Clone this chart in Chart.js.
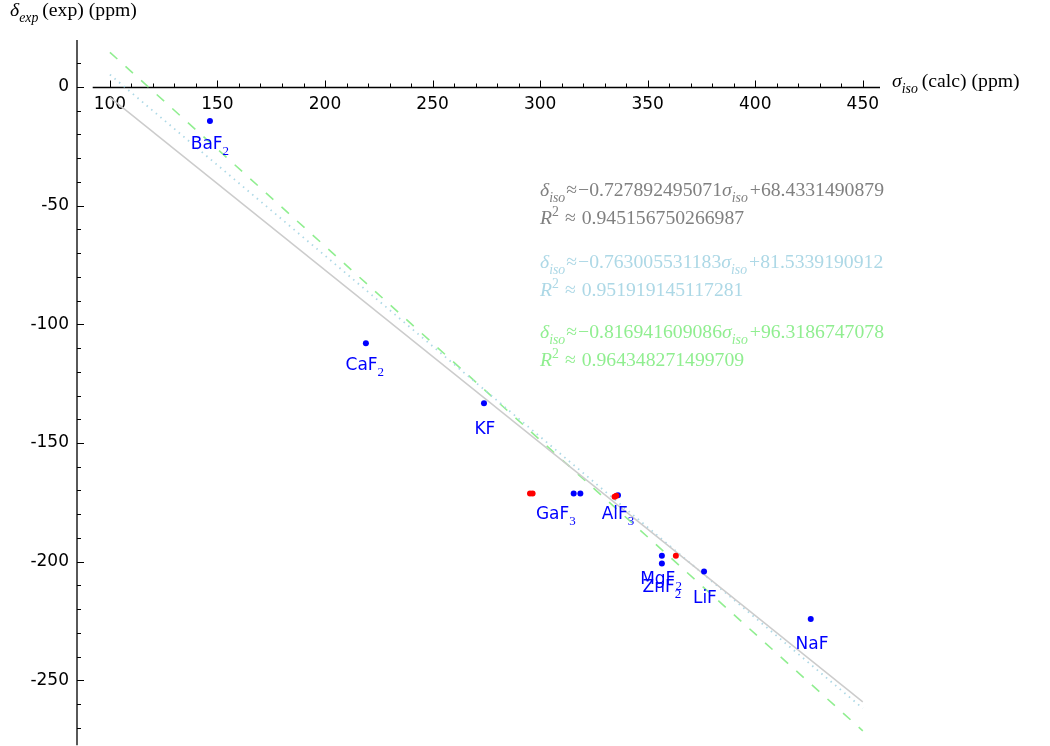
<!DOCTYPE html>
<html>
<head>
<meta charset="utf-8">
<script src="https://cdn.jsdelivr.net/npm/chart.js@4.4.0/dist/chart.umd.min.js"></script>
<style>
  body { margin: 0; background: #fff; }
  #wrap { width: 1050px; height: 746px; }
</style>
</head>
<body>
<div id="wrap"><canvas id="chart"></canvas></div>
<script>
// tick labels
const xTickLabels = [100, 150, 200, 250, 300, 350, 400, 450];
const yTickLabels = [0, -50, -100, -150, -200, -250];

// measured points (sigma calc, delta exp)
const blueX = [146.5, 219.0, 273.9, 315.6, 318.7, 336.2, 356.6, 356.6, 376.2, 425.8];
const blueY = [-14.3, -108.0, -133.3, -171.3, -171.3, -172.0, -197.5, -200.8, -204.2, -224.2];
const redX = [295.3, 296.5, 334.6, 335.4, 363.1];
const redY = [-171.3, -171.3, -172.7, -172.2, -197.5];

// compound labels, placed under the points
const labelNames = ['BaF', 'CaF', 'KF', 'GaF', 'AlF', 'MgF', 'ZnF', 'LiF', 'NaF'];
const labelSubs = ['2', '2', '', '3', '3', '2', '2', '', ''];
const labelX = [146.5, 218.5, 274.3, 307.3, 336.2, 356.2, 356.6, 376.6, 426.4];
const labelY = [-23.6, -116.9, -143.5, -179.3, -179.3, -206.8, -210.1, -214.8, -234.2];

// fit lines, end points at sigma = 100 and 450
const fitX = [100, 450];
const grayFitY = [-4.36, -259.12];
const blueFitY = [5.23, -261.82];
const greenFitY = [14.62, -271.30];

const fitText = [
  { color: '#808080', a: '0.727892495071', b: '68.4331490879', r2: '0.945156750266987' },
  { color: '#add8e6', a: '0.763005531183', b: '81.5339190912', r2: '0.951919145117281' },
  { color: '#90ee90', a: '0.816941609086', b: '96.3186747078', r2: '0.964348271499709' }
];

const SANS = '"DejaVu Sans", sans-serif';
const SERIF = '"Liberation Serif", "DejaVu Serif", serif';

function toPoints(xs, ys) {
  return xs.map((x, i) => ({ x: x, y: ys[i] }));
}

//Draws a list of text runs one after the other, returns the end x
function drawRuns(ctx, runs, x, y, size, color) {
  ctx.fillStyle = color;
  ctx.textBaseline = 'alphabetic';
  ctx.textAlign = 'left';
  for (const r of runs) {
    let font = SERIF, fs = size, dy = 0, style = '';
    if (r.i) style = 'italic ';
    if (r.sub) { fs = size * 0.7; dy = size * 0.28; style = 'italic '; }
    if (r.sup) { fs = size * 0.7; dy = -size * 0.4; }
    ctx.font = style + fs + 'px ' + font;
    ctx.fillText(r.t, x, y + dy);
    x += ctx.measureText(r.t).width + (r.gap || 0);
  }
  return x;
}

const axesPlugin = {
  id: 'sageAxes',
  beforeDatasetsDraw(chart) {
    const ctx = chart.ctx;
    const xs = chart.scales.x, ys = chart.scales.y;
    const area = chart.chartArea;
    const y0 = Math.round(ys.getPixelForValue(0)) + 0.5;
    ctx.save();
    ctx.strokeStyle = '#000';
    ctx.lineWidth = 1.3;
    ctx.beginPath();
    ctx.moveTo(xs.getPixelForValue(92), y0);
    ctx.lineTo(area.right, y0);
    ctx.moveTo(area.left, area.top);
    ctx.lineTo(area.left, ys.getPixelForValue(-277.4));
    ctx.stroke();
    ctx.lineWidth = 1;
    ctx.beginPath();
    for (let v = 100; v <= 450; v += 10) {
      const px = Math.round(xs.getPixelForValue(v)) + 0.5;
      const len = v % 50 === 0 ? 7 : 4;
      ctx.moveTo(px, y0);
      ctx.lineTo(px, y0 - len);
    }
    for (let v = 10; v >= -270; v -= 10) {
      const py = Math.round(ys.getPixelForValue(v)) + 0.5;
      const len = v % 50 === 0 ? 7 : 4;
      ctx.moveTo(area.left, py);
      ctx.lineTo(area.left + len, py);
    }
    ctx.stroke();
    ctx.restore();
  },
  afterDraw(chart) {
    const ctx = chart.ctx;
    const xs = chart.scales.x, ys = chart.scales.y;
    ctx.save();

    // compound labels
    for (let i = 0; i < labelNames.length; i++) {
      ctx.font = '17px ' + SANS;
      const w1 = ctx.measureText(labelNames[i]).width;
      ctx.font = '13px ' + SERIF;
      const w2 = labelSubs[i] ? ctx.measureText(labelSubs[i]).width : 0;
      const cx = xs.getPixelForValue(labelX[i]);
      const cy = ys.getPixelForValue(labelY[i]);
      let x = cx - (w1 + w2) / 2;
      const base = cy + 6;
      ctx.fillStyle = '#0000ff';
      ctx.textBaseline = 'alphabetic';
      ctx.textAlign = 'left';
      ctx.font = '17px ' + SANS;
      ctx.fillText(labelNames[i], x, base);
      if (labelSubs[i]) {
        ctx.font = '13px ' + SERIF;
        ctx.fillText(labelSubs[i], x + w1, base + 6);
      }
    }

    // fit equations
    const baseY = [196, 268, 338];
    fitText.forEach((f, k) => {
      const b = baseY[k];
      drawRuns(ctx, [
        { t: 'δ', i: true }, { t: 'iso', sub: true, gap: 1 },
        { t: '≈', gap: 1 }, { t: '−0.' + f.a.slice(2) }, { t: 'σ', i: true },
        { t: 'iso', sub: true, gap: 2 }, { t: '+' + f.b }
      ], 540, b, 19.7, f.color);
      drawRuns(ctx, [
        { t: 'R', i: true }, { t: '2', sup: true, gap: 6 },
        { t: '≈', gap: 6 }, { t: f.r2 }
      ], 540, b + 27.5, 19.7, f.color);
    });

    // axis titles
    drawRuns(ctx, [
      { t: 'δ', i: true }, { t: 'exp', sub: true, gap: 4 }, { t: '(exp) (ppm)' }
    ], 10, 16, 19.7, '#000');
    drawRuns(ctx, [
      { t: 'σ', i: true }, { t: 'iso', sub: true, gap: 4 }, { t: '(calc) (ppm)' }
    ], 892, 87, 19.7, '#000');
    ctx.restore();
  }
};

new Chart(document.getElementById('chart'), {
  type: 'scatter',
  data: {
    datasets: [
      {
        data: toPoints(redX, redY),
        backgroundColor: '#ff0000', borderColor: '#ff0000',
        pointRadius: 3, pointBorderWidth: 0, order: 0
      },
      {
        data: toPoints(blueX, blueY),
        backgroundColor: '#0000ff', borderColor: '#0000ff',
        pointRadius: 3, pointBorderWidth: 0, order: 1
      },
      {
        type: 'line', data: toPoints(fitX, grayFitY),
        borderColor: '#cccccc', borderWidth: 1.5, pointRadius: 0, order: 2
      },
      {
        type: 'line', data: toPoints(fitX, blueFitY),
        borderColor: '#add8e6', borderWidth: 1.8, borderDash: [1.5, 4.5], pointRadius: 0, order: 3
      },
      {
        type: 'line', data: toPoints(fitX, greenFitY),
        borderColor: '#90ee90', borderWidth: 1.6, borderDash: [10, 11], pointRadius: 0, order: 4
      }
    ]
  },
  options: {
    responsive: true,
    maintainAspectRatio: false,
    animation: false,
    layout: { padding: { left: 0, top: 40, right: 170, bottom: -4 } },
    plugins: { legend: { display: false }, tooltip: { enabled: false } },
    scales: {
      x: {
        type: 'linear',
        position: { y: 0 },
        min: 84.7, max: 458,
        grid: { display: false, drawTicks: false },
        border: { display: false },
        afterFit: (scale) => {
          scale.height = 0;
          scale.paddingTop = 0; scale.paddingBottom = 0;
          scale.paddingLeft = 0; scale.paddingRight = 0;
        },
        afterBuildTicks: (scale) => { scale.ticks = xTickLabels.map(v => ({ value: v })); },
        ticks: { color: '#000', font: { family: SANS, size: 17 }, padding: 7, maxRotation: 0, autoSkip: false }
      },
      y: {
        type: 'linear',
        position: 'left',
        min: -276.0, max: 19.8,
        grid: { display: false, drawTicks: false },
        border: { display: false },
        afterFit: (scale) => {
          scale.width = 77;
          scale.paddingTop = 0; scale.paddingBottom = 0;
        },
        afterBuildTicks: (scale) => { scale.ticks = yTickLabels.map(v => ({ value: v })); },
        ticks: { color: '#000', font: { family: SANS, size: 17 }, padding: 8, autoSkip: false }
      }
    }
  },
  plugins: [axesPlugin]
});
</script>
</body>
</html>
